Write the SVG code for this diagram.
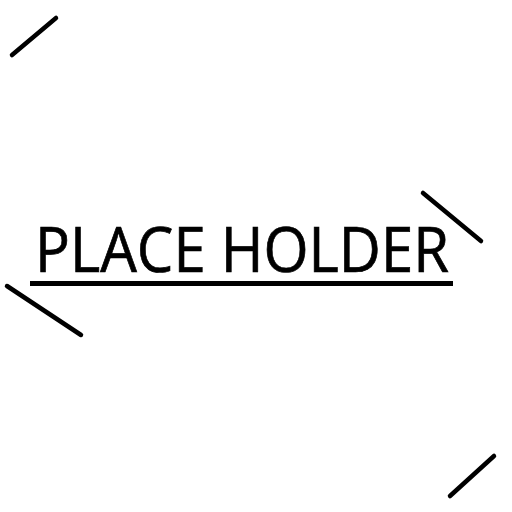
<svg xmlns="http://www.w3.org/2000/svg" width="512" height="512" viewBox="0 0 512 512">
<style>
.mark{stroke:#000;stroke-width:4.5;stroke-linecap:round;fill:none}
.t{font-family:"Open Sans","Noto Sans","Liberation Sans",sans-serif;font-size:62px;fill:#000;stroke:#000;stroke-width:0.7}
</style>
<rect width="512" height="512" fill="#fff"/>
<g id="marks">
<line class="mark" x1="12" y1="55" x2="56" y2="18"/>
<line class="mark" x1="423" y1="193" x2="481" y2="241"/>
<line class="mark" x1="7" y1="286" x2="81" y2="335"/>
<line class="mark" x1="450" y1="496" x2="494" y2="456"/>
</g>
<g id="title">
<text class="t" x="35" y="272" textLength="414" lengthAdjust="spacingAndGlyphs">PLACE HOLDER</text>
<rect x="30" y="281" width="423" height="5" fill="#000"/>
</g>
</svg>
